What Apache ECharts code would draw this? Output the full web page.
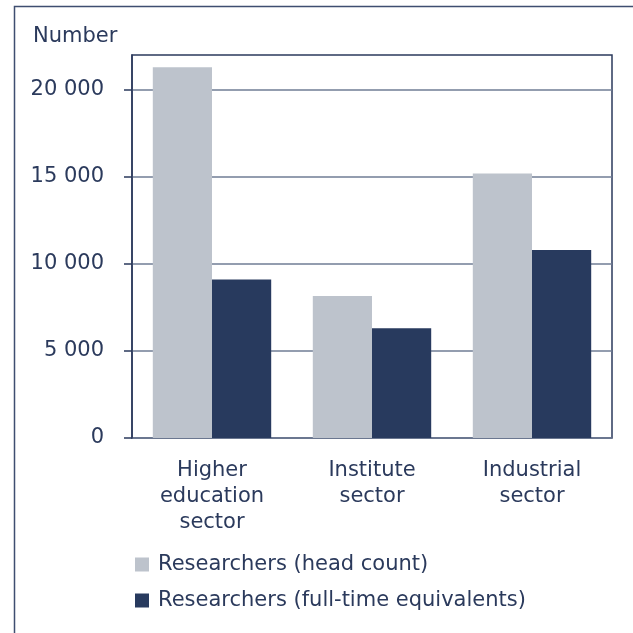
<!DOCTYPE html>
<html>
<head>
<meta charset="utf-8">
<script src="https://cdn.jsdelivr.net/npm/echarts@6/dist/echarts.min.js"></script>
<style>
  html, body { margin: 0; padding: 0; background: #fff; }
  #chart { width: 633px; height: 633px; }
</style>
</head>
<body>
<div id="chart"></div>
<script>
// data
var sectors = ['Higher\neducation\nsector', 'Institute\nsector', 'Industrial\nsector'];
var headCount = [21300, 8150, 15200];
var fullTime = [9100, 6300, 10800];
var seriesNames = ['Researchers (head count)', 'Researchers (full-time equivalents)'];
var yTicks = [0, 5000, 10000, 15000, 20000];

var textColor = '#2b3a5c';
var font = 'DejaVu Sans';
var fs = 21;

var myChart = echarts.init(document.getElementById('chart'));
myChart.setOption({
  animation: false,
  textStyle: { fontFamily: font, color: textColor },
  graphic: [{
    type: 'rect',
    shape: { x: 14.5, y: 6.5, width: 700, height: 700 },
    style: { fill: 'none', stroke: '#3f4e70', lineWidth: 1.5 },
    silent: true
  }, {
    type: 'text',
    left: 33, top: 26,
    style: { text: 'Number', font: fs + 'px "DejaVu Sans"', fill: textColor }
  }],
  grid: {
    left: 132, right: 21, top: 55, bottom: 195,
    show: true, borderColor: '#2b3a5c', borderWidth: 1.5, backgroundColor: 'transparent'
  },
  legend: {
    orient: 'vertical',
    left: 130, top: 549,
    itemWidth: 14, itemHeight: 14, itemGap: 15,
    icon: 'rect',
    textStyle: { fontFamily: font, fontSize: fs, color: textColor, padding: [0, 0, 0, 4] },
    data: seriesNames
  },
  xAxis: {
    type: 'category',
    data: sectors,
    axisLine: { show: false },
    axisTick: { show: false },
    axisLabel: { fontFamily: font, fontSize: fs, color: textColor, lineHeight: 26, margin: 20, interval: 0 }
  },
  yAxis: {
    type: 'value',
    min: 0, max: 22000, interval: 5000,
    axisLine: { show: true, lineStyle: { color: '#2b3a5c', width: 1.5 } },
    axisTick: { show: true, length: 8, customValues: yTicks, lineStyle: { color: '#2b3a5c', width: 1.5 } },
    splitLine: { lineStyle: { color: '#6f7c95', width: 1.5 } },
    axisLabel: {
      fontFamily: font, fontSize: fs, color: textColor, margin: 28,
      customValues: yTicks,
      formatter: function (v) {
        return String(v).replace(/\B(?=(\d{3})+(?!\d))/g, ' ');
      }
    }
  },
  series: [{
    name: seriesNames[0],
    type: 'bar',
    data: headCount,
    barGap: '0%',
    barCategoryGap: '26%',
    itemStyle: { color: '#bdc3cc' }
  }, {
    name: seriesNames[1],
    type: 'bar',
    data: fullTime,
    itemStyle: { color: '#283a5e' }
  }]
});
</script>
</body>
</html>
